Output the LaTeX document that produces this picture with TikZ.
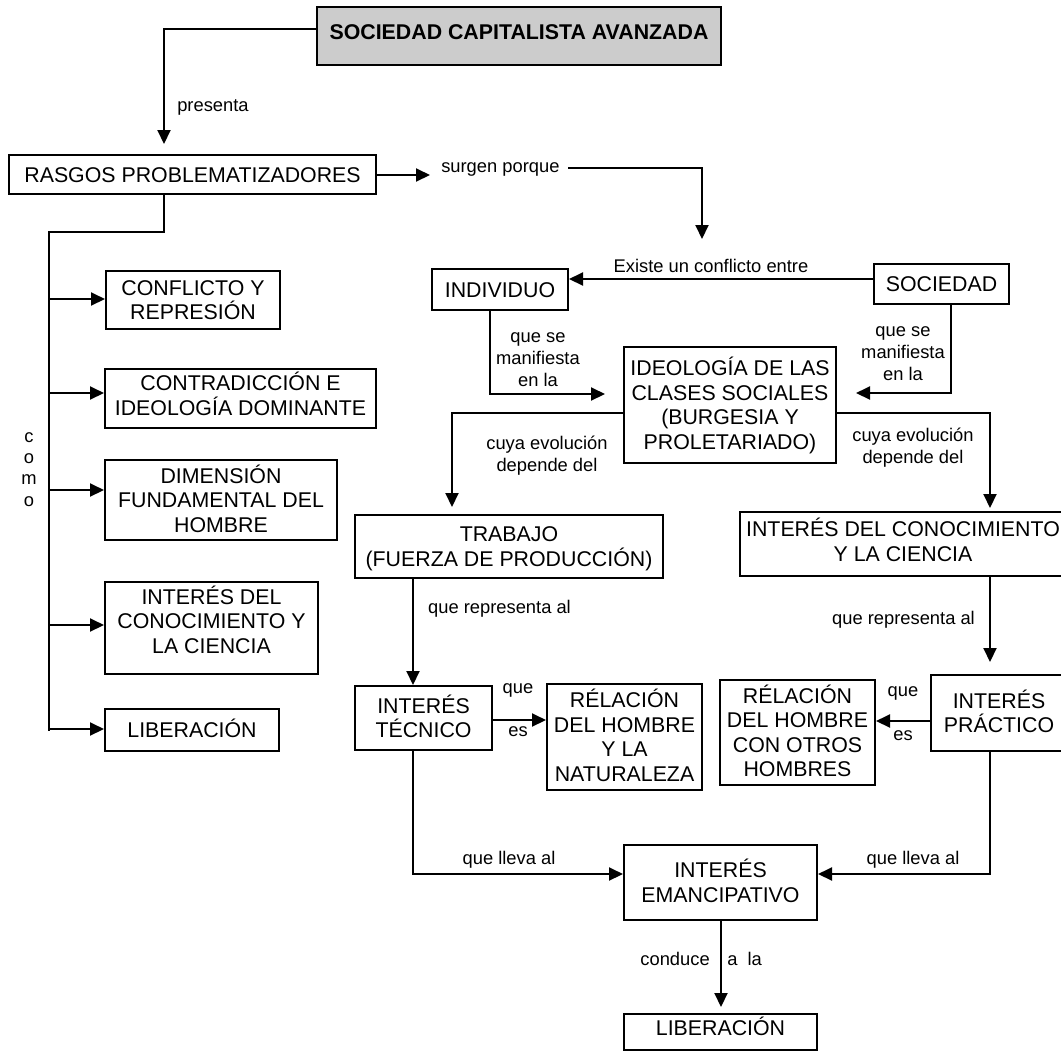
\documentclass[tikz,border=0pt]{standalone}
\usepackage{fontspec}
\setmainfont{Liberation Sans}
\usetikzlibrary{arrows.meta,calc}
\definecolor{boxgray}{HTML}{CCCCCC}
\tikzset{
  box/.style={draw, line width=1.5pt, inner sep=0pt, align=center,
    font=\fontsize{16pt}{18.4pt}\selectfont, text height=11.5pt, text depth=0pt},
  two/.style={text height=29.9pt},
  three/.style={text height=48.3pt},
  four/.style={text height=66.7pt},
  lbl/.style={inner sep=0pt, align=center,
    font=\fontsize{13.75pt}{16.5pt}\selectfont, text height=7.1pt, text depth=0pt},
  ltwo/.style={text height=23.6pt},
  lthree/.style={text height=40.1pt},
  ln/.style={line width=1.5pt},
  arr/.style={line width=1.5pt, -{Triangle[length=10.5pt,width=9.75pt]}}
}
\begin{document}
\begin{tikzpicture}[x=0.75pt,y=-0.75pt]
\useasboundingbox (0,0) rectangle (1061,1051);
\clip (0,0) rectangle (1061,1051);

% ---------- boxes ----------
\node[box, minimum width=303pt, minimum height=43.5pt, fill=boxgray, font=\bfseries\fontsize{16pt}{18.4pt}\selectfont, text depth=6pt] (top) at (519,36) {SOCIEDAD CAPITALISTA AVANZADA};
\node[box, minimum width=275.25pt, minimum height=29.25pt] (ras) at (192.5,174.5) {RASGOS PROBLEMATIZADORES};
\node[box, two, minimum width=130.5pt, minimum height=43.5pt] (conf) at (193,300) {CONFLICTO Y\\REPRESIÓN};
\node[box, two, minimum width=203.25pt, minimum height=44.25pt, text depth=4.5pt] (contr) at (240.5,398.5) {CONTRADICCIÓN E\\IDEOLOGÍA DOMINANTE};
\node[box, three, minimum width=174pt, minimum height=60pt] (dim) at (221,500) {DIMENSIÓN\\FUNDAMENTAL DEL\\HOMBRE};
\node[box, three, minimum width=159.75pt, minimum height=69pt, text depth=10.5pt] (intl) at (211.5,628) {INTERÉS DEL\\CONOCIMIENTO Y\\LA CIENCIA};
\node[box, minimum width=130.5pt, minimum height=31.5pt] (libl) at (192,730) {LIBERACIÓN};
\node[box, minimum width=102pt, minimum height=30.75pt] (ind) at (500,289.5) {INDIVIDUO};
\node[box, minimum width=101.25pt, minimum height=30pt] (soc) at (941.5,284) {SOCIEDAD};
\node[box, four, minimum width=159pt, minimum height=87pt] (ideo) at (730,405) {IDEOLOGÍA DE LAS\\CLASES SOCIALES\\(BURGESIA Y\\PROLETARIADO)};
\node[box, two, minimum width=231pt, minimum height=47.25pt] (trab) at (509,546.5) {TRABAJO\\(FUERZA DE PRODUCCIÓN)};
\node[box, two, minimum width=244.5pt, minimum height=48pt, text depth=3.75pt] (conr) at (903,544) {INTERÉS DEL CONOCIMIENTO\\Y LA CIENCIA};
\node[box, two, minimum width=102.75pt, minimum height=48pt] (tec) at (423.5,718) {INTERÉS\\TÉCNICO};
\node[box, four, minimum width=116.25pt, minimum height=79.5pt] (rn) at (624.5,737) {RÉLACIÓN\\DEL HOMBRE\\Y LA\\NATURALEZA};
\node[box, four, minimum width=116.25pt, minimum height=78.75pt] (ro) at (797.5,732.5) {RÉLACIÓN\\DEL HOMBRE\\CON OTROS\\HOMBRES};
\node[box, two, minimum width=102pt, minimum height=57pt] (pra) at (999,713) {INTERÉS\\PRÁCTICO};
\node[box, two, minimum width=144.75pt, minimum height=56.25pt] (ema) at (720.5,882.5) {INTERÉS\\EMANCIPATIVO};
\node[box, minimum width=144.75pt, minimum height=27pt, text depth=6pt] (libb) at (720.5,1032) {LIBERACIÓN};

% ---------- labels ----------
\node[lbl, anchor=west] (lpres) at (177,107) {presenta};
\node[lbl, anchor=west] (lsurg) at (441,168) {surgen porque};
\node[lbl] (lexis) at (711,268) {Existe un conflicto entre};
\node[lbl, lthree] (lman1) at (538,360) {que se\\manifiesta\\en la};
\node[lbl, lthree] (lman2) at (903,354) {que se\\manifiesta\\en la};
\node[lbl, ltwo] (lcuy1) at (547,456) {cuya evolución\\depende del};
\node[lbl, ltwo] (lcuy2) at (913,448) {cuya evolución\\depende del};
\node[lbl] (lrep1) at (499.5,609) {que representa al};
\node[lbl] (lrep2) at (903.5,620) {que representa al};
\node[lbl] (lque1) at (518,689) {que};
\node[lbl] (les1) at (518,732) {es};
\node[lbl] (lque2) at (903,692) {que};
\node[lbl] (les2) at (903,736) {es};
\node[lbl] (llev1) at (509,860) {que lleva al};
\node[lbl] (llev2) at (913,860) {que lleva al};
\node[lbl, anchor=east] (lcond) at (710,961) {conduce};
\node[lbl, anchor=west] (lala) at (727,961) {a\ \ la};
\node[lbl, font=\fontsize{13.75pt}{16.1pt}\selectfont, text height=55.4pt] (lcomo) at (29,469.5) {c\\o\\m\\o};

% ---------- free ends / bends ----------
\coordinate (p1) at (164,144);
\coordinate (s1) at (430,175);
\coordinate (s2) at (568,168);
\coordinate (s3) at (702,239);
\coordinate (t0) at (164,232);
\coordinate (t1) at (48.5,232);
\coordinate (t2) at (48.5,731);
\coordinate (m1) at (605,394);
\coordinate (m2) at (856,393);
\coordinate (b1) at (452,507);
\coordinate (b2) at (990,508);
\coordinate (c1) at (990,662);
\coordinate (c2) at (721,1007);

% ---------- connectors ----------
\draw[arr] ([yshift=5.25pt]top.west) -| (p1);
\draw[arr] (ras.east |- s1) -- (s1);
\draw[arr] (s2) -| (s3);
\draw[ln] (ras.south -| t0) -- (t0) -- (t1) -- (t2);
\draw[arr] (t1 |- 0,299) -- (conf.west |- 0,299);
\draw[arr] (t1 |- 0,393) -- (contr.west |- 0,393);
\draw[arr] (t1 |- 0,490) -- (dim.west |- 0,490);
\draw[arr] (t1 |- 0,625) -- (intl.west |- 0,625);
\draw[arr] (t1 |- 0,729) -- (libl.west |- 0,729);

\draw[arr] (soc.west |- 0,279) -- (ind.east |- 0,279);
\draw[arr] (ind.south -| 490,0) |- (m1);
\draw[arr] (soc.south -| 951,0) |- (m2);
\draw[arr] (ideo.west |- 0,413) -| (b1);
\draw[arr] (ideo.east |- 0,413) -| (b2);
\draw[arr] (trab.south -| 413,0) -- (tec.north -| 413,0);
\draw[arr] (conr.south -| c1) -- (c1);
\draw[arr] (tec.east |- 0,720) -- (rn.west |- 0,720);
\draw[arr] (pra.west |- 0,721) -- (ro.east |- 0,721);
\draw[arr] (tec.south -| 413,0) |- (ema.west |- 0,874);
\draw[arr] (pra.south -| 990,0) |- (ema.east |- 0,874);
\draw[arr] (ema.south -| c2) -- (c2);
\end{tikzpicture}
\end{document}
